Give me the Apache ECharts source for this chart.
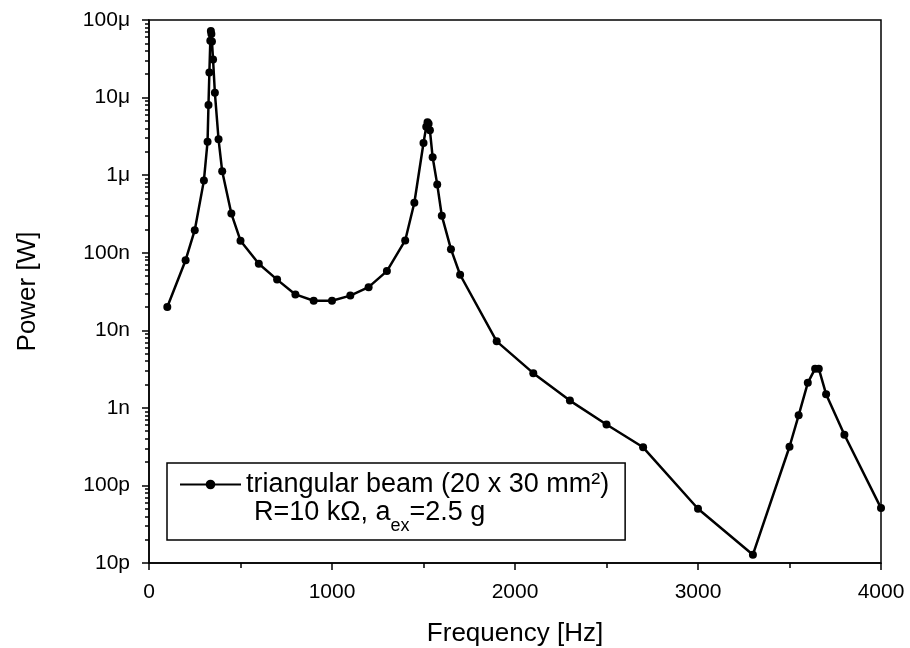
<!DOCTYPE html>
<html lang="en">
<head>
  <meta charset="UTF-8">
  <title>Power vs frequency</title>
  <style>
    html,body{margin:0;padding:0;background:#fff;}
    #main{width:910px;height:648px;}
  </style>
</head>
<body>
  <div id="main"></div>
  <script src="https://cdn.jsdelivr.net/npm/echarts@6/dist/echarts.min.js"></script>
  <script>
    // frequency [Hz] and harvested power [W]
    const freq=[100,200,250,300,320,325,330,335,338,341,344,350,360,380,400,450,500,600,700,800,900,1000,1100,1200,1300,1400,1450,1500,1515,1522,1528,1535,1550,1575,1600,1650,1700,1900,2100,2300,2500,2700,3000,3300,3500,3550,3600,3640,3660,3700,3800,4000];
    const power=[2.0e-8,8.0e-8,1.95e-7,8.5e-7,2.7e-6,8.0e-6,2.1e-5,5.4e-5,7.2e-5,6.6e-5,5.3e-5,3.1e-5,1.15e-5,2.9e-6,1.12e-6,3.2e-7,1.43e-7,7.2e-8,4.5e-8,2.9e-8,2.4e-8,2.4e-8,2.8e-8,3.6e-8,5.8e-8,1.44e-7,4.4e-7,2.6e-6,4.2e-6,4.8e-6,4.6e-6,3.8e-6,1.7e-6,7.6e-7,3.0e-7,1.11e-7,5.2e-8,7.2e-9,2.8e-9,1.24e-9,6.1e-10,3.1e-10,5.0e-11,1.28e-11,3.15e-10,8.0e-10,2.1e-9,3.2e-9,3.2e-9,1.5e-9,4.5e-10,5.1e-11];
    // y tick labels from 1e-11 up to 1e-4
    const yTickLabels=['10p','100p','1n','10n','100n','1\u03bc','10\u03bc','100\u03bc'];
    const seriesName='triangular beam (20 x 30 mm\u00b2)';

    const font='"Liberation Sans", Arial, sans-serif';
    const yMinor=[];
    for(let e=-11;e<-4;e++){
      for(let k=2;k<10;k++) yMinor.push(k*Math.pow(10,e));
    }

    const chart=echarts.init(document.getElementById('main'));
    const option={
      animation:false,
      textStyle:{fontFamily:font,color:'#000'},
      grid:{
        left:149,right:29,top:20,bottom:85,
        outerBoundsMode:'none',
        show:true,borderColor:'#000',borderWidth:1.5
      },
      xAxis:{
        type:'value',
        min:0,max:4000,interval:1000,
        name:'Frequency [Hz]',
        nameLocation:'middle',
        nameGap:58,
        nameTextStyle:{fontSize:26,fontFamily:font,color:'#000'},
        axisLine:{lineStyle:{color:'#000',width:1.5}},
        axisTick:{length:7,lineStyle:{color:'#000',width:1.5}},
        minorTick:{show:true,splitNumber:2,length:5,lineStyle:{color:'#000',width:1.5}},
        axisLabel:{fontSize:21,margin:19,color:'#000',fontFamily:font,formatter:v=>String(v)},
        splitLine:{show:false}
      },
      yAxis:[{
        type:'log',
        min:1e-11,max:1e-4,
        name:'Power [W]',
        nameLocation:'middle',
        nameGap:108,
        nameTextStyle:{fontSize:26,fontFamily:font,color:'#000'},
        axisLine:{lineStyle:{color:'#000',width:1.5}},
        axisTick:{length:7,lineStyle:{color:'#000',width:1.5}},
        axisLabel:{
          fontSize:21,margin:19,color:'#000',fontFamily:font,
          formatter:function(v){
            const e=Math.round(Math.log10(v));
            return yTickLabels[e+11];
          }
        },
        splitLine:{show:false}
      },{
        type:'log',
        min:1e-11,max:1e-4,
        position:'left',
        axisLine:{show:false},
        axisTick:{show:true,length:4,customValues:yMinor,lineStyle:{color:'#000',width:1.5}},
        axisLabel:{show:false},
        splitLine:{show:false}
      }],
      legend:{
        left:167,top:463,
        orient:'vertical',
        padding:[8,16,42,12],
        borderColor:'#000',borderWidth:1.5,
        itemWidth:61,itemHeight:12,itemGap:0,
        textStyle:{fontSize:27,fontFamily:font,color:'#000'},
        data:[seriesName]
      },
      graphic:[{
        type:'text',
        left:254,top:499,
        style:{
          text:'{n|R=10 k\u03a9, a}{s|ex}{n|=2.5 g}',
          rich:{
            n:{fontSize:27,fontFamily:font,fill:'#000',verticalAlign:'bottom',lineHeight:30},
            s:{fontSize:18,fontFamily:font,fill:'#000',verticalAlign:'bottom',lineHeight:30,padding:[0,0,-9,0]}
          }
        }
      }],
      series:[{
        name:seriesName,
        type:'line',
        yAxisIndex:0,
        data:freq.map((f,i)=>[f,power[i]]),
        symbol:'circle',
        symbolSize:8,
        showAllSymbol:true,
        color:'#000',
        lineStyle:{color:'#000',width:2.5},
        itemStyle:{color:'#000'}
      }]
    };
    chart.setOption(option);
  </script>
</body>
</html>
